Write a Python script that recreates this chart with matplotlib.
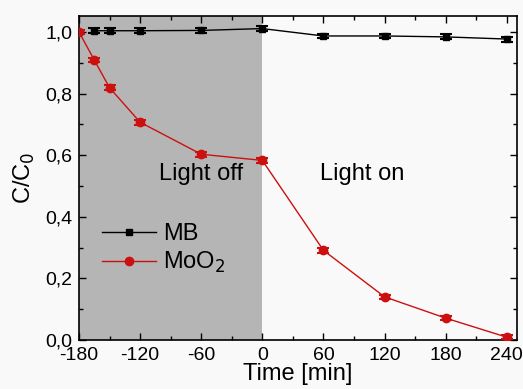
import matplotlib
matplotlib.use("Agg")
import matplotlib.pyplot as plt
from matplotlib.ticker import MultipleLocator, FuncFormatter
from matplotlib.lines import Line2D

plt.rcParams['font.family'] = ['Liberation Sans', 'DejaVu Sans']
plt.rcParams['axes.unicode_minus'] = False

time_mb = [-165, -150, -120, -60, 0, 60, 120, 180, 240]
mb = [1.004, 1.004, 1.004, 1.005, 1.011, 0.987, 0.987, 0.984, 0.977]
mb_err = [0.008, 0.008, 0.008, 0.008, 0.008, 0.008, 0.008, 0.008, 0.008]

time_moo2 = [-180, -165, -150, -120, -60, 0, 60, 120, 180, 240]
moo2 = [1.0, 0.909, 0.819, 0.707, 0.603, 0.583, 0.291, 0.140, 0.071, 0.009]
moo2_err = [0.008, 0.008, 0.008, 0.008, 0.008, 0.008, 0.008, 0.006, 0.006, 0.006]

xticks = [-180, -120, -60, 0, 60, 120, 180, 240]

fig = plt.figure(figsize=(5.23, 3.89), dpi=100, facecolor='#f9f9f9')
ax = fig.add_axes([0.151, 0.126, 0.8375, 0.833])
ax.set_facecolor('#f9f9f9')
ax.axvspan(-180, 0, color='#b5b5b5', zorder=0, lw=0)

red = '#cc1010'
ax.errorbar(time_mb, mb, yerr=mb_err, color='black', marker='s', ms=5,
            lw=1.0, capsize=4, elinewidth=2, capthick=1.5, zorder=3)
ax.errorbar(time_moo2, moo2, yerr=moo2_err, color=red, marker='o', ms=6,
            lw=1.0, capsize=4, elinewidth=2, capthick=1.5, zorder=4)

ax.set_xlim(-180, 250)
ax.set_ylim(0, 1.052)
ax.set_xticks(xticks)
ax.set_xticklabels([str(t) for t in xticks])
ax.xaxis.set_minor_locator(MultipleLocator(30))
ax.yaxis.set_major_locator(MultipleLocator(0.2))
ax.yaxis.set_minor_locator(MultipleLocator(0.1))
ax.yaxis.set_major_formatter(FuncFormatter(lambda v, p: f"{v:.1f}".replace('.', ',')))
ax.tick_params(which='both', direction='in', top=True, right=True, labelsize=14, width=1)
ax.tick_params(axis='x', pad=5)
ax.tick_params(axis='y', pad=5)
ax.tick_params(which='major', length=5)
ax.tick_params(which='minor', length=3)
for s in ax.spines.values():
    s.set_linewidth(1.2)

ax.set_xlabel('Time [min]', fontsize=17, labelpad=-1)
ax.set_ylabel('C/C$_0$', fontsize=17, labelpad=6)

ax.text(-60, 0.54, 'Light off', fontsize=17, ha='center', va='center')
ax.text(98, 0.54, 'Light on', fontsize=17, ha='center', va='center')

handles = [Line2D([], [], color='black', marker='s', ms=5, lw=1.0, label='MB'),
           Line2D([], [], color=red, marker='o', ms=6, lw=1.0, label='MoO$_2$')]
ax.legend(handles=handles, loc='upper left', bbox_to_anchor=(0.03, 0.39), frameon=False,
          fontsize=17, handlelength=2.3, handletextpad=0.3,
          labelspacing=0.2, borderaxespad=0)

fig.savefig('out.png', dpi=100, facecolor=fig.get_facecolor())
